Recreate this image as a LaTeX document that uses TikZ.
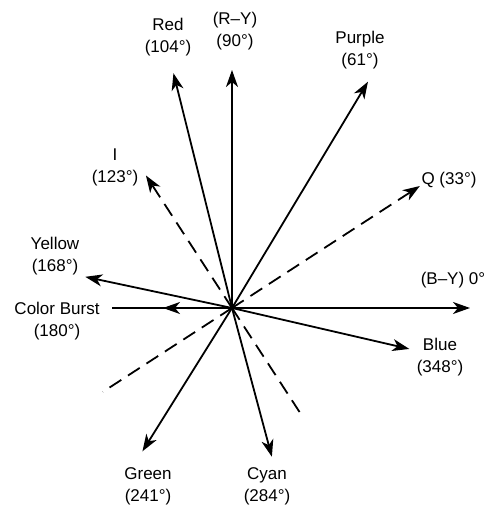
\documentclass[tikz,border=0pt]{standalone}
\usepackage{fontspec}
\setmainfont{Liberation Sans}
\usetikzlibrary{arrows.meta}
\tikzstyle{vecLabel} = [align=center, text=black, inner sep=1pt,
	font=\fontsize{17}{22}\selectfont]
\tikzstyle{vecArrow} = [line width=1.8pt, -{Stealth[length=17pt, width=12pt, inset=5pt]}, draw=black]
\tikzstyle{axisLine} = [line width=1.8pt, draw=black]
\tikzstyle{dashArrow} = [vecArrow, dash pattern=on 14pt off 8pt]
\tikzstyle{dashLine} = [axisLine, dash pattern=on 14pt off 8pt]

\begin{document}
\begin{tikzpicture}[x=1pt, y=1pt]
  \useasboundingbox (-232,-204) rectangle (259,308);
  \coordinate (O) at (0,0);
  \coordinate (RYtip) at (90:238pt);
  \coordinate (REDtip) at (104:242pt);
  \coordinate (PURtip) at (59:264pt);
  \coordinate (Qtip) at (33:224pt);
  \coordinate (Qend) at (213:154pt);
  \coordinate (Itip) at (123:158pt);
  \coordinate (Iend) at (303:128pt);
  \coordinate (BYtip) at (0:238pt);
  \coordinate (BLUtip) at (-13:182pt);
  \coordinate (CYAtip) at (-75:154pt);
  \coordinate (GRNtip) at (238:169pt);
  \coordinate (YELtip) at (168:150pt);
  \coordinate (CBtip) at (180:69pt);
  \coordinate (CBend) at (180:120pt);

  \node (RED) [vecLabel] at (-64,271) {Red\\(104°)};
  \node (RY) [vecLabel] at (3,277) {(R–Y)\\(90°)};
  \node (PUR) [vecLabel] at (128,258) {Purple\\(61°)};
  \node (Q) [vecLabel] at (217,128) {Q (33°)};
  \node (I) [vecLabel] at (-117,141) {I\\(123°)};
  \node (YEL) [vecLabel] at (-177,52) {Yellow\\(168°)};
  \node (CB) [vecLabel] at (-175,-13) {Color Burst\\(180°)};
  \node (BY) [vecLabel] at (221,28) {(B–Y) 0°};
  \node (BLU) [vecLabel] at (208,-49) {Blue\\(348°)};
  \node (GRN) [vecLabel] at (-84,-178) {Green\\(241°)};
  \node (CYA) [vecLabel] at (35,-178) {Cyan\\(284°)};

  \draw [vecArrow] (O) -- (RYtip);
  \draw [vecArrow] (O) -- (REDtip);
  \draw [vecArrow] (O) -- (PURtip);
  \draw [vecArrow] (O) -- (BYtip);
  \draw [vecArrow] (O) -- (BLUtip);
  \draw [vecArrow] (O) -- (CYAtip);
  \draw [vecArrow] (O) -- (GRNtip);
  \draw [vecArrow] (O) -- (YELtip);
  \draw [axisLine] (O) -- (CBend);
  \draw [vecArrow] (O) -- (CBtip);
  \draw [dashArrow] (O) -- (Qtip);
  \draw [dashLine] (O) -- (Qend);
  \draw [dashArrow] (O) -- (Itip);
  \draw [dashLine] (O) -- (Iend);

\end{tikzpicture}
\end{document}
